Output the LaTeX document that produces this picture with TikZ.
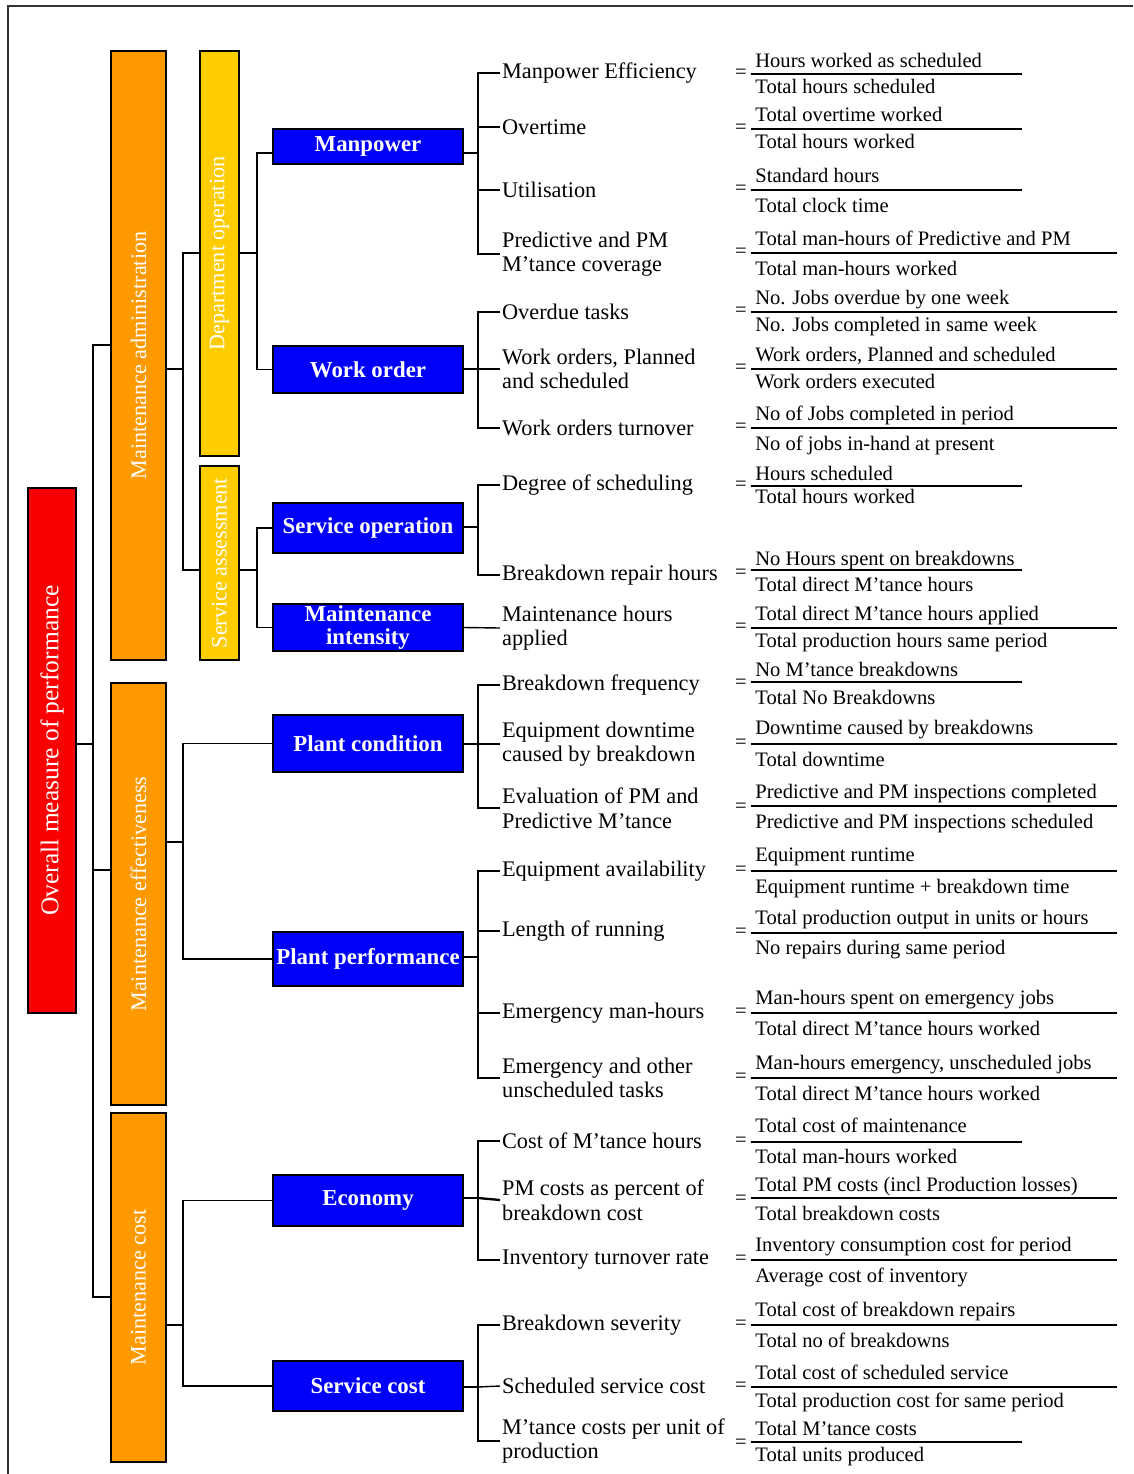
\documentclass[tikz,border=0pt]{standalone}
\usepackage{fontspec}
\setmainfont{Liberation Serif}
\definecolor{boxred}{RGB}{250,0,0}
\definecolor{boxorange}{RGB}{255,153,0}
\definecolor{boxyellow}{RGB}{255,204,0}
\definecolor{boxblue}{RGB}{0,0,250}
\begin{document}
\begin{tikzpicture}[x=0.02cm, y=-0.02cm, every node/.style={inner sep=1pt},
    vbar/.style={draw, line width=1pt, inner sep=0pt},
    vtext/.style={rotate=90, text=white, font=\fontsize{12.6}{14}\selectfont},
    bbox/.style={draw, line width=1pt, fill=boxblue, text=white, font=\fontsize{13}{13.5}\selectfont\bfseries, minimum width=3.8cm, inner sep=0pt, align=center},
    metric/.style={anchor=west, inner sep=1pt, align=left, font=\fontsize{12.7}{14}\selectfont},
    ratio/.style={anchor=west, inner sep=0pt, text height=8pt, text depth=2.5pt, font=\fontsize{11.7}{13}\selectfont},
    den/.style={ratio, yshift=-0.06cm},
    eqsign/.style={inner sep=0pt, font=\fontsize{11.7}{13}\selectfont},
    link/.style={line width=0.8pt},
    tlink/.style={line width=1.3pt},
    bar/.style={line width=0.7pt},
    tbar/.style={line width=1.4pt}]
    \useasboundingbox (0,0) rectangle (1133,1474);
    % frame
    \draw[line width=0.8pt, black!80] (8,1474) -- (8,6) -- (1133,6);

    % Overall measure (x=52, y=750)
    \node[vbar, line width=1.2pt, fill=boxred, minimum width=0.96cm, minimum height=10.5cm, label={[vtext, font=\fontsize{14.5}{16}\selectfont]center:Overall measure of performance}] (ovr) at (52,750.5) {};

    % Orange columns (x=138)
    \node[vbar, fill=boxorange, minimum width=1.1cm, minimum height=12.18cm, label={[vtext]center:Maintenance administration}] (adm) at (138.5,355.5) {};
    \node[vbar, fill=boxorange, minimum width=1.1cm, minimum height=8.44cm, label={[vtext]center:Maintenance effectiveness}] (eff) at (138.5,894) {};
    \node[vbar, fill=boxorange, minimum width=1.1cm, minimum height=6.98cm, label={[vtext]center:Maintenance cost}] (cst) at (138.5,1287.5) {};

    % Yellow columns (x=219)
    \node[vbar, fill=boxyellow, minimum width=0.78cm, minimum height=8.1cm, label={[vtext]center:Department operation}] (dep) at (219.5,253.5) {};
    \node[vbar, fill=boxyellow, minimum width=0.78cm, minimum height=3.88cm, label={[vtext]center:Service assessment}] (sva) at (219.5,563) {};

    % Blue boxes (x=368)
    \node[bbox, minimum height=0.7cm] (mp) at (368,146.5) {Manpower};
    \node[bbox, minimum height=0.94cm] (wo) at (368,369.5) {Work order};
    \node[bbox, minimum height=1cm] (so) at (368,528) {Service operation};
    \node[bbox, minimum height=0.94cm] (mi) at (368,627.5) {Maintenance\\intensity};
    \node[bbox, minimum height=1.14cm] (pc) at (368,743.5) {Plant condition};
    \node[bbox, minimum height=1.08cm] (pp) at (368,959) {Plant performance};
    \node[bbox, minimum height=1.02cm] (eco) at (368,1200.5) {Economy};
    \node[bbox, minimum height=1cm] (sco) at (368,1386) {Service cost};

    % Measures (x=500)
    \node[metric] (m1) at (500,73) {Manpower Efficiency};
    \node[metric] (m2) at (500,127) {Overtime};
    \node[metric] (m3) at (500,190) {Utilisation};
    \node[metric] (m4) at (500,254) {Predictive and PM\\M'tance coverage};
    \node[metric] (m5) at (500,312) {Overdue tasks};
    \node[metric] (m6) at (500,369) {Work orders, Planned\\and scheduled};
    \node[metric] (m7) at (500,428) {Work orders turnover};
    \node[metric] (m8) at (500,485) {Degree of scheduling};
    \node[metric] (m9) at (500,575) {Breakdown repair hours};
    \node[metric] (m10) at (500,628) {Maintenance hours\\applied};
    \node[metric] (m11) at (500,685) {Breakdown frequency};
    \node[metric] (m12) at (500,744) {Equipment downtime\\caused by breakdown};
    \node[metric] (m13) at (500,808) {Evaluation of PM and\\Predictive M'tance};
    \node[metric] (m14) at (500,871) {Equipment availability};
    \node[metric] (m15) at (500,931) {Length of running};
    \node[metric] (m16) at (500,1013) {Emergency man-hours};
    \node[metric] (m17) at (500,1078) {Emergency and other\\unscheduled tasks};
    \node[metric] (m18) at (500,1141) {Cost of M'tance hours};
    \node[metric] (m19) at (500,1200) {PM costs as percent of\\breakdown cost};
    \node[metric] (m20) at (500,1260) {Inventory turnover rate};
    \node[metric] (m21) at (500,1325) {Breakdown severity};
    \node[metric] (m22) at (500,1386) {Scheduled service cost};
    \node[metric] (m23) at (500,1441) {M'tance costs per unit of\\production};

    % Ratios (x=741)
    \node[eqsign] (e1) at (741,74) {=};
    \node[ratio] (n1) at (755,63) {Hours worked as scheduled};
    \node[den] (d1) at (755,86) {Total hours scheduled};
    \draw[tbar] (751,74) -- (1022,74);
    \node[eqsign] (e2) at (741,129) {=};
    \node[ratio] (n2) at (755,117) {Total overtime worked};
    \node[den] (d2) at (755,141) {Total hours worked};
    \draw[bar] (751,129) -- (1022,129);
    \node[eqsign] (e3) at (741,190) {=};
    \node[ratio] (n3) at (755,178) {Standard hours};
    \node[den] (d3) at (755,205) {Total clock time};
    \draw[tbar] (751,190) -- (1022,190);
    \node[eqsign] (e4) at (741,253) {=};
    \node[ratio] (n4) at (755,241) {Total man-hours of Predictive and PM};
    \node[den] (d4) at (755,268) {Total man-hours worked};
    \draw[tbar] (751,253) -- (1117,253);
    \node[eqsign] (e5) at (741,312) {=};
    \node[ratio] (n5) at (755,300) {No. Jobs overdue by one week};
    \node[den] (d5) at (755,324) {No. Jobs completed in same week};
    \draw[tbar] (751,312) -- (1117,312);
    \node[eqsign] (e6) at (741,369) {=};
    \node[ratio] (n6) at (755,357) {Work orders, Planned and scheduled};
    \node[den] (d6) at (755,381) {Work orders executed};
    \draw[bar] (751,369) -- (1117,369);
    \node[eqsign] (e7) at (741,428) {=};
    \node[ratio] (n7) at (755,416) {No of Jobs completed in period};
    \node[den] (d7) at (755,443) {No of jobs in-hand at present};
    \draw[tbar] (751,428) -- (1117,428);
    \node[eqsign] (e8) at (741,486) {=};
    \node[ratio] (n8) at (755,476) {Hours scheduled};
    \node[den] (d8) at (755,496) {Total hours worked};
    \draw[bar] (751,486) -- (1022,486);
    \node[eqsign] (e9) at (741,574) {=};
    \node[ratio] (n9) at (755,561) {No Hours spent on breakdowns};
    \node[den] (d9) at (755,584) {Total direct M'tance hours};
    \draw[tbar] (751,570) -- (1022,570);
    \node[eqsign] (e10) at (741,628) {=};
    \node[ratio] (n10) at (755,616) {Total direct M'tance hours applied};
    \node[den] (d10) at (755,640) {Total production hours same period};
    \draw[bar] (751,628) -- (1117,628);
    \node[eqsign] (e11) at (741,684) {=};
    \node[ratio] (n11) at (755,672) {No M'tance breakdowns};
    \node[den] (d11) at (755,697) {Total No Breakdowns};
    \draw[bar] (751,682) -- (1022,682);
    \node[eqsign] (e12) at (741,744) {=};
    \node[ratio] (n12) at (755,730) {Downtime caused by breakdowns};
    \node[den] (d12) at (755,759) {Total downtime};
    \draw[tbar] (751,744) -- (1117,744);
    \node[eqsign] (e13) at (741,808) {=};
    \node[ratio] (n13) at (755,794) {Predictive and PM inspections completed};
    \node[den] (d13) at (755,821) {Predictive and PM inspections scheduled};
    \draw[tbar] (751,806) -- (1117,806);
    \node[eqsign] (e14) at (741,871) {=};
    \node[ratio] (n14) at (755,857) {Equipment runtime};
    \node[den] (d14) at (755,886) {Equipment runtime + breakdown time};
    \draw[tbar] (751,871) -- (1117,871);
    \node[eqsign] (e15) at (741,933) {=};
    \node[ratio] (n15) at (755,920) {Total production output in units or hours};
    \node[den] (d15) at (755,947) {No repairs during same period};
    \draw[tbar] (751,933) -- (1117,933);
    \node[eqsign] (e16) at (741,1013) {=};
    \node[ratio] (n16) at (755,1000) {Man-hours spent on emergency jobs};
    \node[den] (d16) at (755,1028) {Total direct M'tance hours worked};
    \draw[tbar] (751,1013) -- (1117,1013);
    \node[eqsign] (e17) at (741,1078) {=};
    \node[ratio] (n17) at (755,1065) {Man-hours emergency, unscheduled jobs};
    \node[den] (d17) at (755,1093) {Total direct M'tance hours worked};
    \draw[bar] (751,1078) -- (1117,1078);
    \node[eqsign] (e18) at (741,1142) {=};
    \node[ratio] (n18) at (755,1128) {Total cost of maintenance};
    \node[den] (d18) at (755,1156) {Total man-hours worked};
    \draw[bar] (751,1142) -- (1022,1142);
    \node[eqsign] (e19) at (741,1200) {=};
    \node[ratio] (n19) at (755,1187) {Total PM costs (incl Production losses)};
    \node[den] (d19) at (755,1213) {Total breakdown costs};
    \draw[tbar] (751,1198) -- (1117,1198);
    \node[eqsign] (e20) at (741,1260) {=};
    \node[ratio] (n20) at (755,1247) {Inventory consumption cost for period};
    \node[den] (d20) at (755,1275) {Average cost of inventory};
    \draw[bar] (751,1260) -- (1117,1260);
    \node[eqsign] (e21) at (741,1325) {=};
    \node[ratio] (n21) at (755,1312) {Total cost of breakdown repairs};
    \node[den] (d21) at (755,1340) {Total no of breakdowns};
    \draw[bar] (751,1325) -- (1117,1325);
    \node[eqsign] (e22) at (741,1387) {=};
    \node[ratio] (n22) at (755,1375) {Total cost of scheduled service};
    \node[den] (d22) at (755,1400) {Total production cost for same period};
    \draw[bar] (751,1387) -- (1117,1387);
    \node[eqsign] (e23) at (741,1444) {=};
    \node[ratio] (n23) at (755,1431) {Total M'tance costs};
    \node[den] (d23) at (755,1454) {Total units produced};
    \draw[bar] (751,1442) -- (1022,1442);

    % Tree, level 1
    \coordinate (j0) at (93,744);
    \coordinate (j0a) at (93,345);
    \coordinate (j0e) at (93,870);
    \coordinate (j0c) at (93,1297);
    \draw[link] (ovr.east |- j0) -- (j0);
    \draw[link] (adm.west |- j0a) -- (j0a) -- (j0c) -- (cst.west |- j0c);
    \draw[link] (j0e) -- (eff.west |- j0e);

    % Tree, level 2
    \coordinate (j1) at (183,369);
    \coordinate (j1a) at (183,253);
    \coordinate (j1b) at (183,570);
    \draw[link] (adm.east |- j1) -- (j1);
    \draw[link] (dep.west |- j1a) -- (j1a) -- (j1b) -- (sva.west |- j1b);
    \coordinate (j2) at (183,842);
    \draw[link] (eff.east |- j2) -- (j2);
    \draw[link] (pc.west) -| (j2) |- (pp.west);
    \coordinate (j3) at (183,1325);
    \draw[link] (cst.east |- j3) -- (j3);
    \draw[link] (eco.west) -| (j3) |- (sco.west);

    % Tree, level 3
    \coordinate (j4) at (257,253);
    \coordinate (j4a) at (257,153);
    \draw[link] (dep.east |- j4) -- (j4);
    \draw[link] (mp.west |- j4a) -- (j4a) |- (wo.west);
    \coordinate (j5) at (257,570);
    \draw[link] (sva.east |- j5) -- (j5);
    \draw[link] (so.west) -| (j5) |- (mi.west);

    % Tree, level 4
    \coordinate (k1) at (478,153);
    \draw[tlink] (mp.east |- k1) -- (k1);
    \draw[tlink] (m1.west) -| (k1) |- (m4.west);
    \draw[tlink] (m2.west) -- (m2.west -| k1);
    \draw[tlink] (m3.west) -- (m3.west -| k1);
    \coordinate (k2) at (478,369);
    \draw[link] (wo.east |- k2) -- (k2);
    \draw[tlink] (m5.west) -| (k2) |- (m7.west);
    \draw[link] (m6.west) -- (k2);
    \coordinate (k3) at (478,527);
    \draw[link] (so.east |- k3) -- (k3);
    \draw[tlink] (m8.west) -| (k3) |- (m9.west);
    \draw[link] (mi.east) -- (m10.west);
    \coordinate (k4) at (478,744);
    \draw[tlink] (pc.east |- k4) -- (k4);
    \draw[tlink] (m11.west) -| (k4) |- (m13.west);
    \draw[tlink] (m12.west) -- (k4);
    \coordinate (k5) at (478,957);
    \draw[link] (pp.east |- k5) -- (k5);
    \draw[tlink] (m14.west) -| (k5) |- (m17.west);
    \draw[tlink] (m15.west) -- (m15.west -| k5);
    \draw[tlink] (m16.west) -- (m16.west -| k5);
    \coordinate (k6) at (478,1198);
    \draw[tlink] (eco.east |- k6) -- (k6);
    \draw[tlink] (m18.west) -| (k6) |- (m20.west);
    \draw[tlink] (m19.west) -- (k6);
    \coordinate (k7) at (478,1387);
    \draw[link] (sco.east |- k7) -- (k7);
    \draw[tlink] (m21.west) -| (k7) |- (m23.west);
    \draw[link] (m22.west) -- (k7);
\end{tikzpicture}
\end{document}
